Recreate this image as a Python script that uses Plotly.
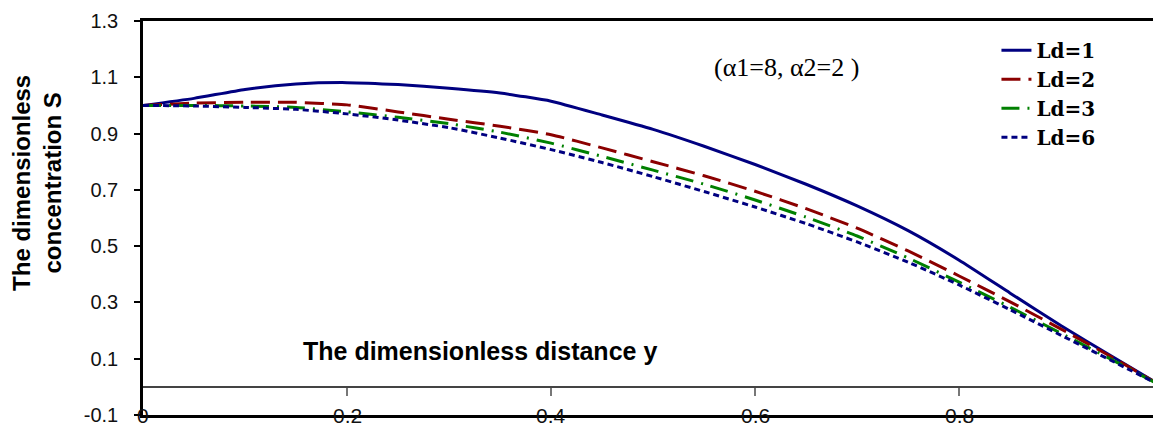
import plotly.graph_objects as go

# Dimensionless distance y
y_dist = [0.0, 0.05, 0.1, 0.15, 0.2, 0.25, 0.3, 0.35, 0.4, 0.45, 0.5,
          0.55, 0.6, 0.65, 0.7, 0.75, 0.8, 0.85, 0.9, 0.95, 1.0]

# Dimensionless concentration S for each Ld (alpha1 = 8, alpha2 = 2)
s_ld1 = [1.0, 1.025, 1.057, 1.076, 1.081, 1.074, 1.061, 1.044, 1.015, 0.966, 0.915,
         0.855, 0.79, 0.72, 0.643, 0.555, 0.45, 0.333, 0.217, 0.108, 0.0]
s_ld2 = [1.0, 1.008, 1.011, 1.011, 1.002, 0.977, 0.951, 0.926, 0.896, 0.849, 0.80,
         0.750, 0.695, 0.633, 0.564, 0.483, 0.394, 0.302, 0.205, 0.105, 0.0]
s_ld3 = [1.0, 1.0, 0.998, 0.993, 0.977, 0.958, 0.935, 0.905, 0.866, 0.819, 0.77,
         0.72, 0.664, 0.603, 0.536, 0.458, 0.372, 0.283, 0.19, 0.096, 0.0]
s_ld6 = [1.0, 0.998, 0.993, 0.986, 0.97, 0.948, 0.921, 0.884, 0.843, 0.797, 0.747,
         0.694, 0.639, 0.58, 0.515, 0.443, 0.362, 0.274, 0.183, 0.092, 0.0]

series_names = ["Ld=1", "Ld=2", "Ld=3", "Ld=6"]
series_values = [s_ld1, s_ld2, s_ld3, s_ld6]

x_ticks = [0, 0.2, 0.4, 0.6, 0.8]
x_tick_text = ["0", "0.2", "0.4", "0.6", "0.8"]
y_ticks = [-0.1, 0.1, 0.3, 0.5, 0.7, 0.9, 1.1, 1.3]
y_tick_text = ["-0.1", "0.1", "0.3", "0.5", "0.7", "0.9", "1.1", "1.3"]

styles = [
    dict(color="#000080", width=3, dash="solid"),
    dict(color="#8B0000", width=3, dash="19px,8px"),
    dict(color="#008000", width=3, dash="18px,8px,2px,8px"),
    dict(color="#000080", width=3, dash="6px,4px"),
]

X_RANGE = [0, 0.99]
Y_RANGE = [-0.1, 1.3]
SANS = "Arial, Liberation Sans, sans-serif"
SERIF = "Times New Roman, Liberation Serif, serif"
LEGEND_SERIF = "DejaVu Serif, serif"

fig = go.Figure()
for name, vals, st in zip(series_names, series_values, styles):
    fig.add_trace(go.Scatter(x=y_dist, y=vals, mode="lines", name=name,
                             line=dict(shape="spline", smoothing=0.5, **st)))

# invisible carrier trace so the tick-only axis at S = 0 is drawn
fig.add_trace(go.Scatter(x=y_dist, y=s_ld1, xaxis="x2", mode="lines",
                         line=dict(width=0), opacity=0, showlegend=False,
                         hoverinfo="skip"))

zero_pos = (0 - Y_RANGE[0]) / (Y_RANGE[1] - Y_RANGE[0])

fig.update_layout(
    width=1153, height=428, autosize=False,
    margin=dict(l=143, r=0, t=21, b=13),
    paper_bgcolor="white", plot_bgcolor="white",
    showlegend=True,
    legend=dict(x=0.845, y=0.975, xanchor="left", yanchor="top",
                bgcolor="rgba(0,0,0,0)",
                font=dict(family=LEGEND_SERIF, size=20, color="black", weight="bold")),
    xaxis=dict(range=X_RANGE, showgrid=False, zeroline=False,
               showline=True, linecolor="black", linewidth=2.5, mirror=True,
               ticks="", showticklabels=False),
    xaxis2=dict(range=X_RANGE, overlaying="x", anchor="free", position=zero_pos,
                side="bottom", showgrid=False, zeroline=False, showline=False,
                tickmode="array", tickvals=x_ticks[1:], ticks="outside",
                ticklen=8, tickwidth=2, tickcolor="#777777", showticklabels=False),
    yaxis=dict(range=Y_RANGE, showgrid=False,
               zeroline=True, zerolinecolor="#444444", zerolinewidth=1.5,
               showline=True, linecolor="black", linewidth=2.5,
               tickmode="array", tickvals=y_ticks, ticktext=y_tick_text,
               ticks="outside", ticklen=6, tickwidth=1.5, tickcolor="black",
               ticklabelstandoff=12,
               tickfont=dict(family=SANS, size=20, color="#111111")),
)

# x tick labels sit on the bottom frame line
for xv, txt in zip(x_ticks, x_tick_text):
    fig.add_annotation(x=xv, y=Y_RANGE[0], xref="x", yref="y", text=txt,
                       showarrow=False, xanchor="center", yanchor="middle",
                       font=dict(family=SANS, size=21, color="#111111"))

fig.add_annotation(x=0.33, y=0.128, xref="x", yref="y",
                   text="The dimensionless distance y", showarrow=False,
                   font=dict(family=SANS, size=25, color="black", weight="bold"))

fig.add_annotation(x=0.631, y=1.135, xref="x", yref="y",
                   text="(\u03b11=8, \u03b12=2 )", showarrow=False,
                   font=dict(family=SERIF, size=26, color="black"))

fig.add_annotation(x=-0.105, y=0.589, xref="paper", yref="paper",
                   xanchor="center", yanchor="middle",
                   text="The dimensionless<br>concentration S",
                   textangle=-90, showarrow=False,
                   font=dict(family=SANS, size=24, color="black", weight="bold"))

fig.write_html("out.html")
